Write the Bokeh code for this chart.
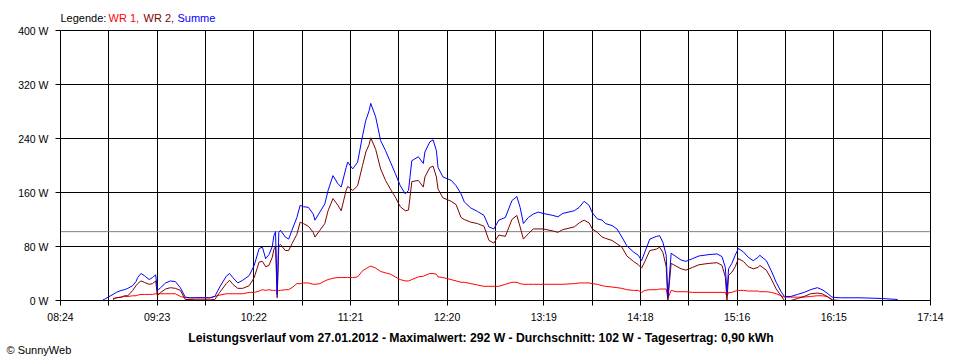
import numpy as np
from bokeh.plotting import figure
from bokeh.layouts import column
from bokeh.models import Range1d, FixedTicker, PrintfTickFormatter, CustomJSTickFormatter, Span
from bokeh.core.properties import value
from bokeh.embed import file_html
from bokeh.resources import INLINE

# ---------------- data ----------------
TIMES = [
    "08:50", "08:51", "08:53", "08:56", "08:58", "09:01", "09:03", "09:05", "09:08", "09:10",
    "09:11", "09:13", "09:15", "09:16", "09:18", "09:20", "09:22", "09:23", "09:25", "09:28",
    "09:31", "09:34", "09:37", "09:40", "09:43", "09:46", "09:49", "09:52", "09:55", "09:58",
    "10:01", "10:05", "10:07", "10:09", "10:12", "10:15", "10:19", "10:22", "10:25", "10:27",
    "10:29", "10:31", "10:33", "10:34", "10:35", "10:36", "10:37", "10:38", "10:41", "10:43",
    "10:45", "10:48", "10:50", "10:52", "10:55", "10:58", "10:59", "11:02", "11:05", "11:07",
    "11:10", "11:13", "11:15", "11:18", "11:19", "11:22", "11:25", "11:28", "11:30", "11:32",
    "11:33", "11:36", "11:39", "11:42", "11:45", "11:48", "11:51", "11:54", "11:56", "11:58",
    "12:02", "12:05", "12:06", "12:09", "12:11", "12:13", "12:14", "12:17", "12:22", "12:25",
    "12:28", "12:30", "12:34", "12:38", "12:42", "12:45", "12:48", "12:51", "12:55", "12:59",
    "13:02", "13:04", "13:06", "13:09", "13:12", "13:15", "13:18", "13:24", "13:27", "13:30",
    "13:37", "13:40", "13:43", "13:46", "13:48", "13:51", "13:54", "13:56", "14:00", "14:03",
    "14:06", "14:09", "14:13", "14:16", "14:18", "14:20", "14:23", "14:27", "14:29", "14:31",
    "14:33", "14:34", "14:36", "14:39", "14:42", "14:45", "14:49", "14:53", "14:59", "15:04",
    "15:07", "15:09", "15:10", "15:11", "15:13", "15:15", "15:17", "15:20", "15:23", "15:26",
    "15:29", "15:30", "15:34", "15:37", "15:40", "15:43", "15:45", "15:49", "15:53", "15:57",
    "16:01", "16:05", "16:08", "16:11", "16:14", "16:19", "16:31", "16:44", "16:54",
]

# WR 1 (red), watts
WR1 = [
    None, None, None, 3, 4, 5, 6, 6, 7, 7,
    8, 9, 9, 9, 9, 9, 10, 10, 10, 10,
    10, 10, 6, 4, 4, 4, 4, 4, 4, 6,
    8, 10, 10, 10, 10, 10, 12, 12, 14, 16,
    15, 16, 15, 15, 15, 13, 15, 15, 16, 16,
    19, 25, 25, 26, 26, 24, 24, 25, 29, 31,
    33, 34, 34, 34, 34, 34, 35, 44, 47, 50,
    51, 48, 43, 41, 39, 35, 31, 29, 29, 31,
    35, 36, 37, 40, 40, 39, 35, 34, 31, 29,
    27, 27, 25, 23, 21, 21, 21, 21, 24, 27,
    27, 25, 24, 24, 24, 24, 24, 24, 24, 24,
    25, 26, 26, 26, 25, 24, 22, 21, 20, 19,
    18, 16, 15, 15, 12, 15, 16, 16, 17, 17,
    17, 3, 15, 13, 13, 13, 12, 12, 12, 12,
    12, 12, 6, 12, 12, 14, 15, 15, 14, 14,
    14, 13, 13, 12, 10, 7, 5, 5, 5, 5,
    6, 7, 7, 6, 1.5, None, None, None, None,
]

# WR 2 (dark red), watts
WR2 = [
    None, None, None, 1.5, 4, 5, 7, 7, 15, 22,
    25, 29, 27, 26, 24, 25, 29, 7, 12, 17,
    19, 18, 15, 1.5, 1.5, 1, 1, 1, 1, 1.5,
    12, 25, 30, 24, 18, 18, 22, 34, 57, 58,
    50, 52, 64, 76, 80, 4, 81, 83, 74, 74,
    84, 98, 116, 114, 110, 101, 94, 104, 114, 133,
    151, 141, 133, 163, 169, 163, 170, 200, 220, 231,
    241, 224, 195, 178, 165, 153, 139, 133, 134, 176,
    178, 168, 183, 197, 199, 183, 165, 152, 147, 142,
    123, 120, 116, 114, 110, 89, 85, 97, 95, 120,
    126, 109, 91, 99, 106, 106, 106, 103, 101, 105,
    109, 115, 119, 115, 106, 101, 94, 92, 89, 84,
    79, 66, 58, 53, 48, 58, 74, 76, 79, 71,
    50, 0, 55, 51, 47, 45, 49, 53, 55, 56,
    52, 35, 0, 37, 42, 50, 62, 58, 50, 47,
    49, 52, 45, 32, 17, 7, 0, 0, 3, 6,
    10, 11, 10, 6, 1, 0, None, None, None,
]

# Summe (blue), watts
SUMME = [
    1.5, 2, 5, 9, 12, 15, 16, 18, 22, 28,
    34, 40, 37, 35, 31, 34, 38, 15, 19, 26,
    29, 28, 19, 5, 4, 4, 4, 4, 4, 6,
    20, 36, 40, 34, 26, 30, 37, 52, 77, 79,
    62, 68, 80, 96, 102, 9, 101, 104, 94, 91,
    104, 123, 141, 139, 138, 128, 119, 131, 143, 163,
    185, 173, 168, 197, 205, 195, 205, 244, 267, 281,
    292, 272, 237, 222, 205, 188, 170, 158, 163, 207,
    213, 203, 220, 235, 238, 222, 197, 183, 178, 170,
    158, 146, 137, 132, 126, 109, 106, 119, 123, 148,
    154, 138, 114, 123, 128, 131, 129, 126, 124, 129,
    133, 138, 147, 141, 130, 121, 119, 114, 111, 106,
    94, 81, 72, 67, 59, 72, 91, 95, 96, 86,
    67, 5, 70, 65, 60, 58, 62, 66, 68, 69,
    65, 49, 12, 47, 55, 67, 77, 72, 64, 59,
    64, 67, 59, 44, 27, 13, 6, 6, 9, 12,
    16, 19, 16, 11, 5, 4, 4, 3, 1.5,
]

X_TICK_LABELS = ["08:24", "09:23", "10:22", "11:21", "12:20", "13:19", "14:18", "15:16", "16:15", "17:14"]
Y_TICKS = [0, 80, 160, 240, 320, 400]
AVERAGE_W = 102
LEGEND_TEXTS = ["Legende:", "WR 1,", "WR 2,", "Summe"]
TITLE = "Leistungsverlauf vom 27.01.2012 - Maximalwert: 292 W - Durchschnitt: 102 W - Tagesertrag: 0,90 kWh"
COPYRIGHT = "\u00a9 SunnyWeb"

# ---------------- build ----------------
def to_min(s):
    h, m = s.split(":")
    return int(h) * 60 + int(m)

x = np.array([to_min(t) for t in TIMES], dtype=float)
wr1 = np.array(WR1, dtype=float)
wr2 = np.array(WR2, dtype=float)
summe = np.array(SUMME, dtype=float)

x_start = to_min(X_TICK_LABELS[0])
x_end = to_min(X_TICK_LABELS[-1])
n_int = 2 * (len(X_TICK_LABELS) - 1)
step = (x_end - x_start) / n_int
x_ticks = [x_start + k * step for k in range(n_int + 1)]

W = 960
TOP_H = 24
BOT_H = 32
ML, MR, MT, MB = 60, 30, 6, 28
MAIN_H = MT + 270 + MB


def text_strip(height):
    f = figure(width=W, height=height, output_backend="svg", toolbar_location=None,
               x_range=Range1d(0, W), y_range=Range1d(height, 0),
               min_border_left=0, min_border_right=0, min_border_top=0, min_border_bottom=0,
               frame_align=False)
    f.axis.visible = False
    f.grid.visible = False
    f.outline_line_color = None
    f.background_fill_color = "white"
    f.border_fill_color = "white"
    return f


# legend strip
top = text_strip(TOP_H)
top.text(x=[60, 108, 143, 177], y=[17] * 4, text=LEGEND_TEXTS,
         text_color=["black", "#ff0000", "#800000", "#0000ff"],
         text_font=value("Liberation Sans"), text_font_size=value("11px"),
         text_baseline="middle", text_align="left")

# main chart
p = figure(width=W, height=MAIN_H, output_backend="svg", toolbar_location=None,
           x_range=Range1d(x_start, x_end), y_range=Range1d(0, 400),
           min_border_left=ML, min_border_right=MR, min_border_top=MT, min_border_bottom=MB,
           frame_align=False)
p.background_fill_color = "white"
p.border_fill_color = "white"
p.outline_line_color = "black"
p.outline_line_width = 1

p.xgrid.ticker = FixedTicker(ticks=x_ticks)
p.ygrid.ticker = FixedTicker(ticks=Y_TICKS)
for g in (p.xgrid, p.ygrid):
    g.grid_line_color = "black"
    g.grid_line_width = 1

p.xaxis.ticker = FixedTicker(ticks=x_ticks)
p.xaxis.formatter = CustomJSTickFormatter(
    args=dict(labels=X_TICK_LABELS, start=x_start, step=step),
    code="const k = Math.round((tick - start) / step); return (k % 2 == 0) ? labels[k / 2] : '';")
p.yaxis.ticker = FixedTicker(ticks=Y_TICKS)
p.yaxis.formatter = PrintfTickFormatter(format="%d W")

for ax in (p.xaxis, p.yaxis):
    ax.axis_line_color = "black"
    ax.major_tick_line_color = "black"
    ax.major_tick_in = 0
    ax.major_tick_out = 5
    ax.minor_tick_line_color = None
    ax.major_label_text_font = "Liberation Sans"
    ax.major_label_text_font_size = "10.5px"
    ax.major_label_text_color = "black"
p.yaxis.major_label_standoff = 7
p.xaxis.major_label_standoff = 5

avg = Span(location=AVERAGE_W, dimension="width", line_color="#808080", line_width=1, level="underlay")
p.add_layout(avg)

p.line(x, wr1, line_color="#ff0000", line_width=1)
p.line(x, wr2, line_color="#800000", line_width=1)
p.line(x, summe, line_color="#0000ff", line_width=1)

# bottom strip: title + copyright
bot = text_strip(BOT_H)
bot.text(x=[480.5], y=[9], text=[TITLE], text_color="black",
         text_font=value("Liberation Sans"), text_font_size=value("12.2px"), text_font_style="bold",
         text_baseline="middle", text_align="center")
bot.text(x=[6], y=[21.5], text=[COPYRIGHT], text_color="black",
         text_font=value("Liberation Sans"), text_font_size=value("11px"),
         text_baseline="middle", text_align="left")

layout = column(top, p, bot, spacing=0)
open("out.html", "w").write(file_html(layout, INLINE))
